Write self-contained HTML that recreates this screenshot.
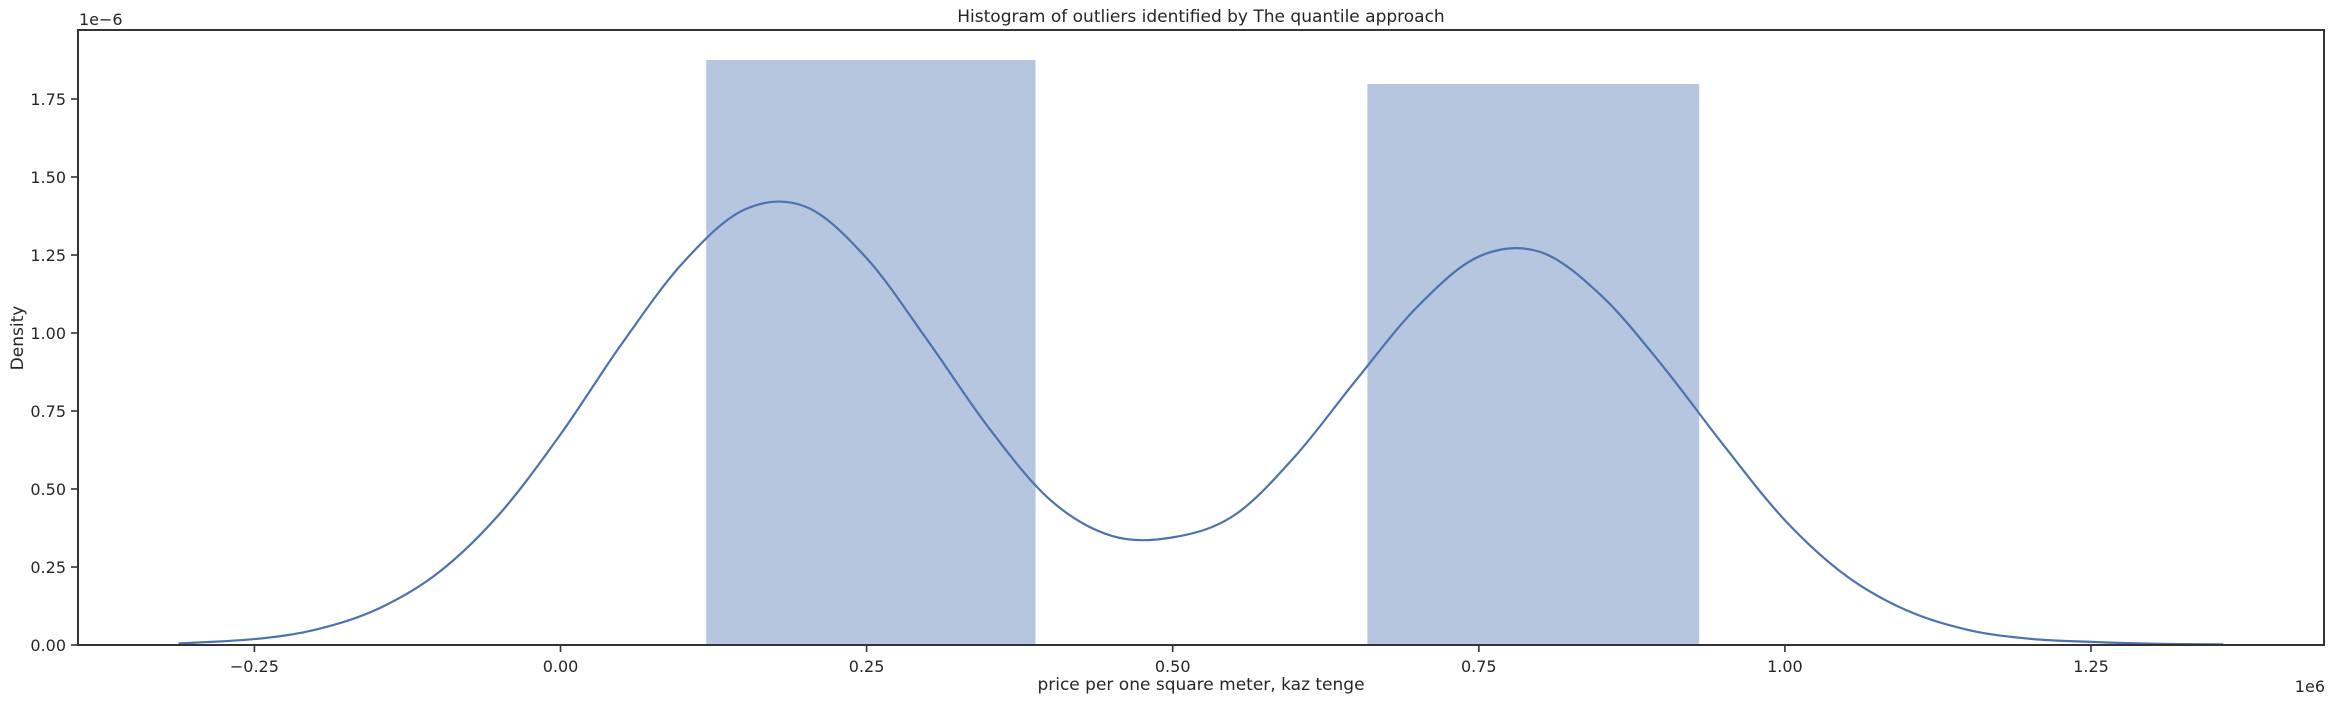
<!DOCTYPE html>
<html><head><meta charset="utf-8"><style>
html,body{margin:0;padding:0;background:#fff;}
svg{display:block;font-family:"DejaVu Sans","Liberation Sans",sans-serif;}
</style></head><body>
<svg id="chart" width="2335" height="705" viewBox="0 0 2335 705" xmlns="http://www.w3.org/2000/svg">
<g id="plot"></g>
</svg>
<script>
const binEdges = [0.119, 0.388, 0.659, 0.930];
const binDensity = [1.875, 0, 1.798];
const kdeX = [-0.312,-0.25,-0.20,-0.15,-0.10,-0.05,0.00,0.05,0.10,0.15,0.20,0.25,0.30,0.35,0.40,0.45,0.50,0.55,0.60,0.65,0.70,0.75,0.80,0.85,0.90,0.95,1.00,1.05,1.10,1.15,1.20,1.25,1.30,1.358];
const kdeY = [0.005,0.019,0.049,0.114,0.231,0.419,0.675,0.965,1.225,1.395,1.405,1.24,0.975,0.695,0.465,0.35,0.345,0.415,0.605,0.85,1.085,1.245,1.26,1.12,0.895,0.64,0.40,0.222,0.11,0.048,0.02,0.01,0.004,0.002];
const xTicks = [-0.25,0,0.25,0.5,0.75,1.0,1.25];
const xTickLabels = ["\u22120.25","0.00","0.25","0.50","0.75","1.00","1.25"];
const yTicks = [0,0.25,0.5,0.75,1.0,1.25,1.5,1.75];
const yTickLabels = ["0.00","0.25","0.50","0.75","1.00","1.25","1.50","1.75"];

const L=78, R=2324, T=30, B=645;
const xs = v => 560.5 + v*1224.4;
const ys = v => B - v*312;
const NS="http://www.w3.org/2000/svg";
const g=document.getElementById('plot');
function mk(tag,attrs,parent){const e=document.createElementNS(NS,tag);for(const k in attrs)e.setAttribute(k,attrs[k]);(parent||g).appendChild(e);return e;}

for(let i=0;i<binDensity.length;i++){
  if(binDensity[i]<=0) continue;
  const r=mk('rect',{x:xs(binEdges[i]),y:ys(binDensity[i]),width:xs(binEdges[i+1])-xs(binEdges[i]),height:B-ys(binDensity[i]),fill:'#b6c6df'});
  
  
}
const pts=kdeX.map((x,i)=>[xs(x),ys(kdeY[i])]);
let d='M'+pts[0][0]+','+pts[0][1];
for(let i=0;i<pts.length-1;i++){
  const p0=pts[Math.max(0,i-1)],p1=pts[i],p2=pts[i+1],p3=pts[Math.min(pts.length-1,i+2)];
  const c1=[p1[0]+(p2[0]-p0[0])/6,p1[1]+(p2[1]-p0[1])/6];
  const c2=[p2[0]-(p3[0]-p1[0])/6,p2[1]-(p3[1]-p1[1])/6];
  d+=' C'+c1[0]+','+c1[1]+' '+c2[0]+','+c2[1]+' '+p2[0]+','+p2[1];
}
const kde=mk('path',{d:d,fill:'none',stroke:'#4c72b0','stroke-width':2.2});



const fr=mk('rect',{x:L,y:T,width:R-L,height:B-T,fill:'none',stroke:'#333','stroke-width':2});



xTicks.forEach((v,i)=>{
  const x=xs(v);
  const t=mk('line',{x1:x,x2:x,y1:B,y2:B+7,stroke:'#333','stroke-width':1.6});
  
  
  const lb=mk('text',{x:x,y:B+27,'text-anchor':'middle','font-size':16,fill:'#262626'});
  lb.textContent=xTickLabels[i];
  
  
});
yTicks.forEach((v,i)=>{
  const y=ys(v);
  const t=mk('line',{x1:L-7,x2:L,y1:y,y2:y,stroke:'#333','stroke-width':1.6});
  
  
  const lb=mk('text',{x:L-12,y:y+6,'text-anchor':'end','font-size':16,fill:'#262626'});
  lb.textContent=yTickLabels[i];
  
  
});
function txt(s,attrs,name){const e=mk('text',Object.assign({fill:'#262626'},attrs));e.textContent=s;return e;}
txt('Histogram of outliers identified by The quantile approach',{x:1201,y:22,'text-anchor':'middle','font-size':17},'chart-title');
txt('price per one square meter, kaz tenge',{x:1201,y:690,'text-anchor':'middle','font-size':17},'x-axis-title');
txt('Density',{x:0,y:0,'text-anchor':'middle','font-size':17,transform:'translate(23,338) rotate(-90)'},'y-axis-title');
txt('1e\u22126',{x:79,y:25,'font-size':16},'y-axis-offset');
txt('1e6',{x:2325,y:692,'text-anchor':'end','font-size':16},'x-axis-offset');
</script>
</body></html>
